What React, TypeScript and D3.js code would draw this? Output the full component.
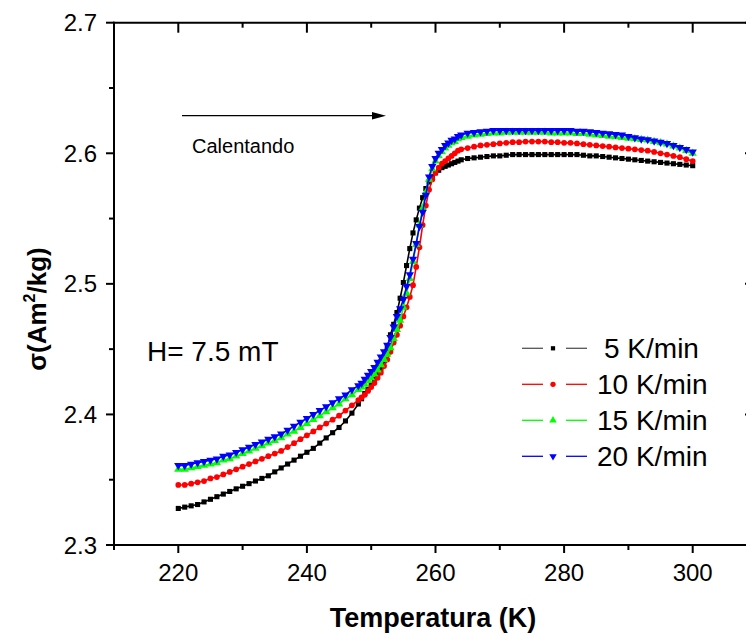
import React from "react";
import * as d3 from "d3";

// Temperature (K) sampling points
const temps = [
  220, 221, 222, 223, 224, 225, 226, 227, 228, 229, 230, 231, 232, 233, 234, 235, 236, 237, 238, 239,
  240, 241, 242, 243, 244, 245, 246, 247, 248,
  248.5, 249, 249.5, 250, 250.5, 251, 251.5, 252, 252.5, 253, 253.5, 254, 254.5, 255, 255.5, 256,
  256.5, 257, 257.5, 258, 258.5, 259, 259.5, 260, 260.5, 261, 261.5, 262, 262.5, 263, 263.5, 264,
  265, 266, 267, 268, 269, 270, 271, 272, 273, 274, 275, 276, 277, 278, 279, 280, 281, 282, 283, 284,
  285, 286, 287, 288, 289, 290, 291, 292, 293, 294, 295, 296, 297, 298, 299, 300,
];

// 5 K/min
const rate5 = [
  2.328, 2.329, 2.33, 2.331, 2.333, 2.335, 2.337, 2.339, 2.341, 2.343, 2.345, 2.347, 2.349, 2.351, 2.353,
  2.356, 2.359, 2.362, 2.365, 2.368, 2.371, 2.374, 2.378, 2.382, 2.386, 2.39, 2.395, 2.401, 2.408,
  2.412, 2.416, 2.419, 2.423, 2.427, 2.431, 2.435, 2.441, 2.451, 2.461, 2.469, 2.478, 2.489, 2.501, 2.514,
  2.527, 2.539, 2.549, 2.558, 2.566, 2.573, 2.578, 2.582, 2.585, 2.587, 2.589, 2.59, 2.591, 2.592, 2.593,
  2.594, 2.595,
  2.596, 2.5965, 2.597, 2.5975, 2.598, 2.598, 2.5985, 2.599, 2.599, 2.599, 2.599, 2.599, 2.599, 2.599,
  2.599, 2.599, 2.599, 2.599, 2.5985, 2.598, 2.598, 2.5975, 2.597, 2.5965, 2.596, 2.5955, 2.595, 2.5945,
  2.594, 2.5935, 2.593, 2.5925, 2.592, 2.5915, 2.591, 2.5905,
];

// 10 K/min
const rate10 = [
  2.346, 2.346, 2.347, 2.348, 2.349, 2.351, 2.352, 2.354, 2.356, 2.358, 2.36, 2.362, 2.364, 2.366, 2.368,
  2.37, 2.372, 2.375, 2.378, 2.381, 2.384, 2.387, 2.39, 2.393, 2.396, 2.399, 2.403, 2.407, 2.411,
  2.413, 2.415, 2.418, 2.421, 2.424, 2.428, 2.432, 2.437, 2.442, 2.448, 2.455, 2.461, 2.468, 2.475, 2.482,
  2.49, 2.499, 2.513, 2.528, 2.545, 2.56, 2.572, 2.58, 2.585, 2.589, 2.592, 2.594, 2.596, 2.598, 2.6,
  2.602, 2.603,
  2.604, 2.605, 2.606, 2.6065, 2.607, 2.6075, 2.608, 2.6085, 2.6085, 2.609, 2.609, 2.609, 2.609, 2.6085,
  2.6085, 2.608, 2.608, 2.6075, 2.607, 2.6065, 2.606, 2.6055, 2.605, 2.6045, 2.604, 2.6035, 2.603, 2.6025,
  2.602, 2.601, 2.6, 2.599, 2.598, 2.597, 2.5955, 2.594,
];

// 15 K/min
const rate15 = [
  2.358, 2.358, 2.359, 2.36, 2.361, 2.362, 2.363, 2.365, 2.366, 2.368, 2.37, 2.372, 2.374, 2.376, 2.378,
  2.38, 2.382, 2.385, 2.387, 2.39, 2.393, 2.396, 2.399, 2.402, 2.405, 2.408, 2.412, 2.415, 2.419,
  2.421, 2.423, 2.426, 2.428, 2.431, 2.434, 2.438, 2.442, 2.446, 2.451, 2.458, 2.465, 2.472, 2.482, 2.493,
  2.504, 2.517, 2.53, 2.545, 2.558, 2.57, 2.58, 2.588, 2.594, 2.598, 2.601, 2.604, 2.606, 2.608, 2.609,
  2.611, 2.612,
  2.613, 2.614, 2.6145, 2.615, 2.6155, 2.6155, 2.616, 2.616, 2.616, 2.616, 2.616, 2.616, 2.616, 2.6155,
  2.6155, 2.6155, 2.6155, 2.615, 2.615, 2.6145, 2.614, 2.6135, 2.613, 2.6125, 2.612, 2.6115, 2.611, 2.6105,
  2.61, 2.609, 2.608, 2.607, 2.6055, 2.604, 2.602, 2.6,
];

// 20 K/min
const rate20 = [
  2.361, 2.361, 2.362, 2.363, 2.364, 2.365, 2.366, 2.368, 2.369, 2.371, 2.373, 2.375, 2.377, 2.379, 2.381,
  2.383, 2.385, 2.388, 2.391, 2.394, 2.397, 2.4, 2.403, 2.406, 2.409, 2.412, 2.415, 2.419, 2.422,
  2.424, 2.427, 2.43, 2.433, 2.436, 2.44, 2.444, 2.448, 2.453, 2.459, 2.467, 2.475, 2.481, 2.488, 2.498,
  2.507, 2.519, 2.531, 2.544, 2.555, 2.568, 2.582, 2.59, 2.596, 2.6, 2.603, 2.606, 2.608, 2.61, 2.611,
  2.613, 2.614,
  2.6155, 2.616, 2.6165, 2.617, 2.6175, 2.6175, 2.6175, 2.6175, 2.6175, 2.6175, 2.6175, 2.6175, 2.6175,
  2.6175, 2.6175, 2.6175, 2.6175, 2.617, 2.617, 2.6165, 2.616, 2.6155, 2.615, 2.6145, 2.614, 2.613, 2.612,
  2.611, 2.6105, 2.6095, 2.6085, 2.6075, 2.606, 2.6045, 2.603, 2.601,
];

const seriesNames = ["5 K/min", "10 K/min", "15 K/min", "20 K/min"];
const seriesValues = [rate5, rate10, rate15, rate20];
const seriesColors = ["#000000", "#ff0000", "#00ff00", "#0000ff"];
const seriesSymbols = ["square", "circle", "triangleUp", "triangleDown"];

const xMajorTicks = [220, 240, 260, 280, 300];
const xMinorTicks = [210, 230, 250, 270, 290];
const yMajorTicks = [2.3, 2.4, 2.5, 2.6, 2.7];
const yMinorTicks = [2.35, 2.45, 2.55, 2.65];

const xTitle = "Temperatura (K)";
const annotationText = "Calentando";
const fieldText = "H= 7.5 mT";

const W = 746;
const H = 634;
const FONT = "'Liberation Sans', Arial, Helvetica, sans-serif";

function symbolPath(kind: string, size: number) {
  if (kind === "square") return d3.symbol().type(d3.symbolSquare).size(size)()!;
  if (kind === "circle") return d3.symbol().type(d3.symbolCircle).size(size)()!;
  return d3.symbol().type(d3.symbolTriangle).size(size)()!;
}

export default function App() {
  const left = 114;
  const right = 757;
  const top = 22.7;
  const bottom = 545;
  const x = d3.scaleLinear().domain([210, 310]).range([left, right]);
  const y = d3.scaleLinear().domain([2.3, 2.7]).range([bottom, top]);

  const line = d3
    .line<number>()
    .x((_, i) => x(temps[i]))
    .y((d) => y(d));

  const markerSize = [26, 26, 30, 30];
  const legendMarkerSize = [18, 22, 24, 24];

  const legendRowsY = [348.3, 384.3, 420.3, 456.3];

  return (
    <svg
      width={W}
      height={H}
      style={{ position: "absolute", left: 0, top: 0, background: "#fff" }}
      fontFamily={FONT}
    >
      <rect x={0} y={0} width={W} height={H} fill="#fff" />

      {/* series */}
      {seriesValues.map((vals, si) => {
        const sym = symbolPath(seriesSymbols[si], markerSize[si]);
        const rot = seriesSymbols[si] === "triangleDown" ? 180 : 0;
        return (
          <g key={si}>
            <path d={line(vals)!} fill="none" stroke={seriesColors[si]} strokeWidth={1.6} />
            {vals.map((v, i) => (
              <path
                key={i}
                d={sym}
                transform={`translate(${x(temps[i])},${y(v)}) rotate(${rot})`}
                fill={seriesColors[si]}
              />
            ))}
          </g>
        );
      })}

      {/* frame */}
      <g stroke="#000" strokeWidth={2} fill="none">
        <line x1={left} x2={left} y1={top - 1} y2={bottom + 3} />
        <line x1={left - 1} x2={W + 5} y1={bottom} y2={bottom} />
        <line x1={left - 1} x2={W + 5} y1={top} y2={top} />
        <line x1={right} x2={right} y1={top} y2={bottom} />
        {/* bottom ticks */}
        {xMajorTicks.map((t) => (
          <line key={"bM" + t} x1={x(t)} x2={x(t)} y1={bottom} y2={bottom + 8} />
        ))}
        {xMinorTicks.map((t) => (
          <line key={"bm" + t} x1={x(t)} x2={x(t)} y1={bottom} y2={bottom + 5} />
        ))}
        {/* top ticks (inward) */}
        {xMajorTicks.map((t) => (
          <line key={"tM" + t} x1={x(t)} x2={x(t)} y1={top} y2={top + 10} />
        ))}
        {xMinorTicks.map((t) => (
          <line key={"tm" + t} x1={x(t)} x2={x(t)} y1={top} y2={top + 5} />
        ))}
        {/* left ticks */}
        {yMajorTicks.map((t) => (
          <line key={"lM" + t} x1={left - 8} x2={left} y1={y(t)} y2={y(t)} />
        ))}
        {yMinorTicks.map((t) => (
          <line key={"lm" + t} x1={left - 5} x2={left} y1={y(t)} y2={y(t)} />
        ))}
        {/* right ticks (inward) */}
        {yMajorTicks.map((t) => (
          <line key={"rM" + t} x1={right - 12} x2={right} y1={y(t)} y2={y(t)} />
        ))}
      </g>

      {/* tick labels */}
      {xMajorTicks.map((t) => (
        <text key={"xl" + t} x={x(t)} y={581} fontSize={24} textAnchor="middle" fill="#000">
          {t}
        </text>
      ))}
      {yMajorTicks.map((t) => (
        <text key={"yl" + t} x={97} y={y(t) + 8.6} fontSize={24} textAnchor="end" fill="#000">
          {t.toFixed(1)}
        </text>
      ))}

      {/* axis titles */}
      <text x={433} y={627} fontSize={27} fontWeight="bold" textAnchor="middle" fill="#000">
        {xTitle}
      </text>
      <g transform="translate(46,309) rotate(-90)">
        <text x={0} y={0} fontSize={26} fontWeight="bold" textAnchor="middle" fill="#000">
          σ(Am
          <tspan fontSize={16} dy={-11}>
            2
          </tspan>
          <tspan dy={11}>/kg)</tspan>
        </text>
      </g>

      {/* annotation arrow */}
      <line x1={182} x2={374} y1={115.7} y2={115.7} stroke="#000" strokeWidth={1.2} />
      <path d="M372,112 L386,115.7 L372,119.4 Z" fill="#000" />
      <text x={192} y={153} fontSize={20} fill="#000">
        {annotationText}
      </text>

      <text x={147} y={361} fontSize={28} fill="#000">
        {fieldText}
      </text>

      {/* legend */}
      {seriesNames.map((name, si) => {
        const cy = legendRowsY[si];
        const sym = symbolPath(seriesSymbols[si], legendMarkerSize[si]);
        const rot = seriesSymbols[si] === "triangleDown" ? 180 : 0;
        const lc = si === 0 ? "#555" : seriesColors[si];
        return (
          <g key={"lg" + si}>
            <line x1={522} x2={543} y1={cy} y2={cy} stroke={lc} strokeWidth={1.3} />
            <line x1={566} x2={587} y1={cy} y2={cy} stroke={lc} strokeWidth={1.3} />
            <path d={sym} transform={`translate(553,${cy}) rotate(${rot})`} fill={seriesColors[si]} />
            <text x={si === 0 ? 604 : 597} y={cy + 10} fontSize={28} fill="#000">
              {name}
            </text>
          </g>
        );
      })}
    </svg>
  );
}
